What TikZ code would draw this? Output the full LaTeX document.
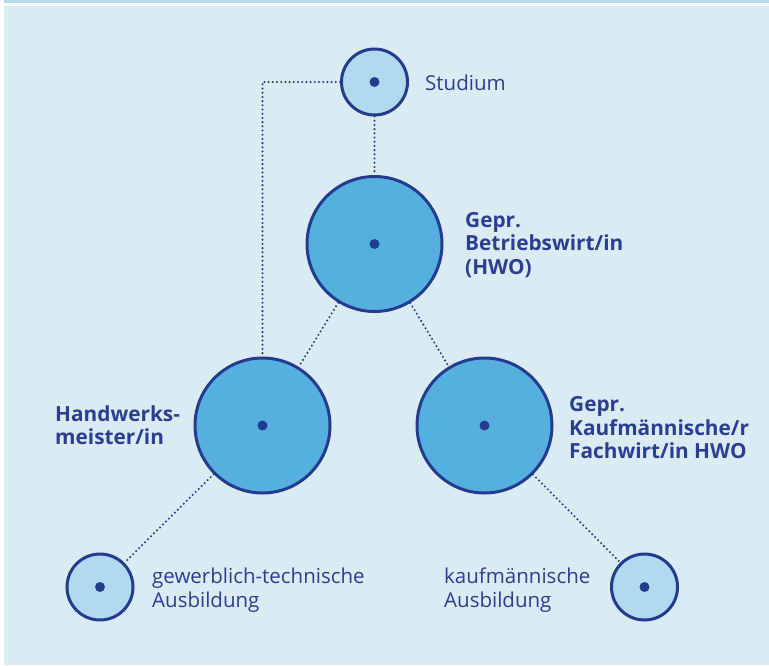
\documentclass[tikz,border=0pt]{standalone}
\usepackage{fontspec}
\setmainfont{Open Sans}
\definecolor{bgblue}{HTML}{DAEBF3}
\definecolor{topband}{HTML}{B6D9E9}
\definecolor{smallfill}{HTML}{B2DAEE}
\definecolor{bigfill}{HTML}{55B0DD}
\definecolor{navy}{HTML}{233C8F}
\definecolor{txt}{HTML}{2B3E91}
\tikzset{
  smallc/.style={circle, draw=navy, line width=3pt, fill=smallfill, minimum size=66pt, inner sep=0pt},
  bigc/.style={circle, draw=navy, line width=3pt, fill=bigfill, minimum size=135pt, inner sep=0pt},
  dotline/.style={draw=navy, line width=2.3pt, line cap=round, dash pattern=on 0pt off 4.2pt},
  lbl/.style={anchor=west, align=left, text=txt, inner sep=0pt, font=\fontsize{20.5}{24}\selectfont},
  blbl/.style={lbl, font=\fontsize{20.8}{23.5}\selectfont\bfseries},
  cdot/.style={fill=navy}
}
\begin{document}
\begin{tikzpicture}[x=1pt,y=-1pt]
\useasboundingbox (0,0) rectangle (769,665);
\fill[white] (0,0) rectangle (769,665);
\fill[topband] (4,0) rectangle (769,3);
\fill[bgblue] (4,5.5) rectangle (769,665);

\node[smallc] (stud) at (374.5,82) {};
\node[bigc] (bw) at (374.5,244) {};
\node[bigc] (hw) at (262.5,425.5) {};
\node[bigc] (kf) at (484.5,425.5) {};
\node[smallc] (gt) at (100,587) {};
\node[smallc] (ka) at (644.5,587) {};

\foreach \n in {stud,bw,hw,kf,gt,ka} \fill[cdot] (\n.center) circle (5);

\path[dotline] (stud.west) -| (hw.north);
\path[dotline] (stud.south) -- (bw.north);
\path[dotline] (bw) -- (hw);
\path[dotline] (bw) -- (kf);
\path[dotline] (hw) -- (gt);
\path[dotline] (kf) -- (ka);

\node[lbl] (tstud) at (425,83) {Studium};
\node[blbl] (tbw) at (465,245) {Gepr.\\Betriebswirt/in\\(HWO)};
\node[blbl] (thw) at (55,425) {Handwerks-\\meister/in};
\node[blbl] (tkf) at (569,428) {Gepr.\\Kaufmännische/r\\Fachwirt/in HWO};
\node[lbl] (tgt) at (152,590) {gewerblich-technische\\Ausbildung};
\node[lbl] (tka) at (444,590) {kaufmännische\\Ausbildung};
\end{tikzpicture}
\end{document}
